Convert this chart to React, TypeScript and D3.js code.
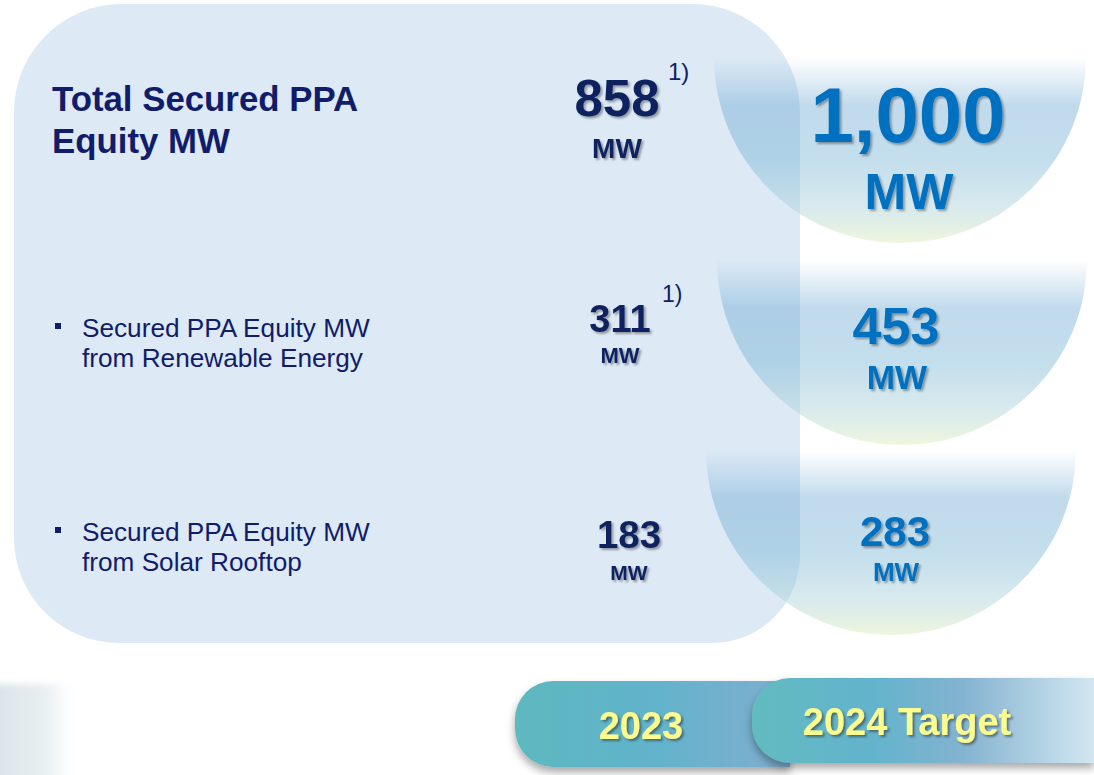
import React from "react";
import * as d3 from "d3";

// ---------- data ----------
const categoryLines: string[][] = [
  ["Total Secured PPA", "Equity MW"],
  ["Secured PPA Equity MW", "from Renewable Energy"],
  ["Secured PPA Equity MW", "from Solar Rooftop"],
];
const values2023 = [858, 311, 183];
const values2024Target = [1000, 453, 283];
const footnotes2023 = ["1)", "1)", ""];
const periodLabels = ["2023", "2024 Target"];
const unitLabel = "MW";

// ---------- layout (not data) ----------
const W = 1094;
const H = 775;
const FONT = "'Liberation Sans', Arial, Helvetica, sans-serif";
const NAVY = "#111c6a";
const NUM_NAVY = "#0c215f";
const BLUE = "#0070c0";
const YELLOW = "#fbfb8e";

type RowLayout = {
  bullet: boolean;
  labelX: number;
  labelY: number;
  labelStep: number;
  labelSize: number;
  labelBold: boolean;
  c23x: number;
  n23y: number;
  n23size: number;
  u23y: number;
  u23size: number;
  fnX: number;
  fnY: number;
  fnSize: number;
  circX: number;
  circY: number;
  circR: number;
  n24x: number;
  n24y: number;
  n24size: number;
  u24y: number;
  u24size: number;
};

const rows: RowLayout[] = [
  {
    bullet: false, labelX: 52, labelY: 111, labelStep: 42, labelSize: 34.8, labelBold: true,
    c23x: 617, n23y: 116, n23size: 51, u23y: 158, u23size: 28,
    fnX: 668, fnY: 80, fnSize: 24,
    circX: 900, circY: 57, circR: 186,
    n24x: 908, n24y: 142, n24size: 78, u24y: 209, u24size: 50,
  },
  {
    bullet: true, labelX: 82, labelY: 337, labelStep: 30, labelSize: 26.2, labelBold: false,
    c23x: 620, n23y: 332, n23size: 38, u23y: 363, u23size: 22,
    fnX: 662, fnY: 302, fnSize: 23,
    circX: 902, circY: 260, circR: 185,
    n24x: 896, n24y: 344, n24size: 52, u24y: 389, u24size: 34,
  },
  {
    bullet: true, labelX: 82, labelY: 541, labelStep: 30, labelSize: 26.2, labelBold: false,
    c23x: 629, n23y: 548, n23size: 38.5, u23y: 580, u23size: 21,
    fnX: 0, fnY: 0, fnSize: 0,
    circX: 891, circY: 450, circR: 185,
    n24x: 895, n24y: 546, n24size: 42, u24y: 581, u24size: 26,
  },
];

function roundedRectPath(
  x0: number, y0: number, x1: number, y1: number,
  rtl: number, rtr: number, rbr: number, rbl: number
): string {
  const p = d3.path();
  p.moveTo(x0 + rtl, y0);
  p.lineTo(x1 - rtr, y0);
  if (rtr > 0) p.arcTo(x1, y0, x1, y0 + rtr, rtr);
  p.lineTo(x1, y1 - rbr);
  if (rbr > 0) p.arcTo(x1, y1, x1 - rbr, y1, rbr);
  else p.lineTo(x1, y1);
  p.lineTo(x0 + rbl, y1);
  if (rbl > 0) p.arcTo(x0, y1, x0, y1 - rbl, rbl);
  else p.lineTo(x0, y1);
  p.lineTo(x0, y0 + rtl);
  if (rtl > 0) p.arcTo(x0, y0, x0 + rtl, y0, rtl);
  p.closePath();
  return p.toString();
}

function bowlPath(cx: number, cy: number, r: number): string {
  const p = d3.path();
  p.moveTo(cx - r, cy);
  p.arc(cx, cy, r, Math.PI, 0, true);
  p.closePath();
  return p.toString();
}

const fmt = d3.format(",");

export default function App() {
  const panel = roundedRectPath(14, 4, 800, 643, 108, 108, 88, 105);
  const tab1 = roundedRectPath(515, 681, 790, 767, 38, 0, 0, 38);
  const tab2 = roundedRectPath(752, 678, W, 763, 38, 0, 0, 38);

  return (
    <svg
      width={W}
      height={H}
      viewBox={`0 0 ${W} ${H}`}
      style={{ position: "absolute", left: 0, top: 0, background: "#ffffff" }}
      fontFamily={FONT}
    >
      <defs>
        <linearGradient id="bowl" x1="0" y1="0" x2="0" y2="1">
          <stop offset="0" stopColor="#6aa8d2" stopOpacity={0} />
          <stop offset="0.1" stopColor="#6aa8d2" stopOpacity={0.16} />
          <stop offset="0.26" stopColor="#6aa8d2" stopOpacity={0.42} />
          <stop offset="0.55" stopColor="#70b0d3" stopOpacity={0.42} />
          <stop offset="0.8" stopColor="#a8d0d8" stopOpacity={0.45} />
          <stop offset="1" stopColor="#e6f0c8" stopOpacity={0.6} />
        </linearGradient>
        <linearGradient id="tab1g" x1="0" y1="0" x2="1" y2="0">
          <stop offset="0" stopColor="#5db8bf" />
          <stop offset="0.5" stopColor="#62b3cb" />
          <stop offset="1" stopColor="#80aed0" />
        </linearGradient>
        <linearGradient id="tab2g" x1="0" y1="0" x2="1" y2="0">
          <stop offset="0" stopColor="#62bbc0" />
          <stop offset="0.35" stopColor="#63b3cc" />
          <stop offset="0.62" stopColor="#84b3d0" />
          <stop offset="1" stopColor="#d2e7f1" />
        </linearGradient>
        <linearGradient id="fadeL" x1="0" y1="0" x2="1" y2="0">
          <stop offset="0" stopColor="#d9e3e8" />
          <stop offset="0.6" stopColor="#e8eef1" />
          <stop offset="1" stopColor="#ffffff" stopOpacity={0} />
        </linearGradient>
        <filter id="numShadow" x="-10%" y="-10%" width="130%" height="140%">
          <feDropShadow dx="2" dy="2" stdDeviation="1.3" floodColor="#000" floodOpacity="0.35" />
        </filter>
        <filter id="yelShadow" x="-10%" y="-10%" width="130%" height="140%">
          <feDropShadow dx="2" dy="2" stdDeviation="1.2" floodColor="#2a3a40" floodOpacity="0.6" />
        </filter>
        <filter id="tabShadow" x="-10%" y="-20%" width="130%" height="160%">
          <feDropShadow dx="0" dy="5" stdDeviation="4" floodColor="#000" floodOpacity="0.35" />
        </filter>
        <filter id="soft" x="-20%" y="-20%" width="140%" height="140%">
          <feGaussianBlur stdDeviation="3" />
        </filter>
      </defs>

      {/* left panel */}
      <path d={panel} fill="#dde9f5" />

      {/* target bowls */}
      {rows.map((r, i) => (
        <path key={`bowl${i}`} d={bowlPath(r.circX, r.circY, r.circR)} fill="url(#bowl)" />
      ))}

      {/* category labels */}
      {rows.map((r, i) => (
        <g key={`lab${i}`}>
          {r.bullet && (
            <rect x={55} y={r.labelY - 14} width={6} height={6} fill={NAVY} />
          )}
          {categoryLines[i].map((line, j) => (
            <text
              key={j}
              x={r.labelX}
              y={r.labelY + j * r.labelStep}
              fontSize={r.labelSize}
              fontWeight={r.labelBold ? "bold" : "normal"}
              fill={NAVY}
            >
              {line}
            </text>
          ))}
        </g>
      ))}

      {/* 2023 values */}
      {rows.map((r, i) => (
        <g key={`v23${i}`}>
          <text
            x={r.c23x}
            y={r.n23y}
            textAnchor="middle"
            fontSize={r.n23size}
            fontWeight="bold"
            fill={NUM_NAVY}
            filter="url(#numShadow)"
          >
            {fmt(values2023[i])}
          </text>
          <text
            x={r.c23x}
            y={r.u23y}
            textAnchor="middle"
            fontSize={r.u23size}
            fontWeight="bold"
            fill={NUM_NAVY}
            filter="url(#numShadow)"
          >
            {unitLabel}
          </text>
          {footnotes2023[i] && (
            <text x={r.fnX} y={r.fnY} fontSize={r.fnSize} fill={NAVY}>
              {footnotes2023[i]}
            </text>
          )}
        </g>
      ))}

      {/* 2024 target values */}
      {rows.map((r, i) => (
        <g key={`v24${i}`}>
          <text
            x={r.n24x}
            y={r.n24y}
            textAnchor="middle"
            fontSize={r.n24size}
            fontWeight="bold"
            fill={BLUE}
            filter="url(#numShadow)"
          >
            {fmt(values2024Target[i])}
          </text>
          <text
            x={r.n24x + 1}
            y={r.u24y}
            textAnchor="middle"
            fontSize={r.u24size}
            fontWeight="bold"
            fill={BLUE}
            filter="url(#numShadow)"
          >
            {unitLabel}
          </text>
        </g>
      ))}

      {/* bottom-left faded block */}
      <rect x={-10} y={684} width={92} height={100} fill="url(#fadeL)" filter="url(#soft)" />

      {/* period tabs */}
      <path d={tab1} fill="url(#tab1g)" filter="url(#tabShadow)" />
      <text
        x={641}
        y={739}
        textAnchor="middle"
        fontSize={38}
        fontWeight="bold"
        fill={YELLOW}
        filter="url(#yelShadow)"
      >
        {periodLabels[0]}
      </text>
      <path d={tab2} fill="url(#tab2g)" filter="url(#tabShadow)" />
      <text
        x={907}
        y={735}
        textAnchor="middle"
        fontSize={38}
        fontWeight="bold"
        fill={YELLOW}
        filter="url(#yelShadow)"
      >
        {periodLabels[1]}
      </text>
    </svg>
  );
}
